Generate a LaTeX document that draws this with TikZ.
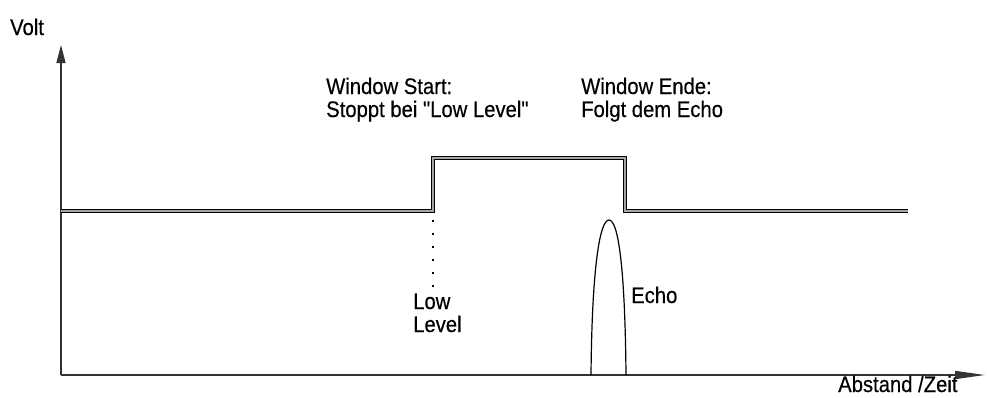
\documentclass[tikz,border=0pt]{standalone}
\usepackage{fontspec}
\newfontfamily\lblfont{Liberation Sans}[FakeStretch=0.9,FakeBold=0.4]
\usetikzlibrary{arrows.meta}
\begin{document}
\begin{tikzpicture}[x=1pt,y=-1pt,
  axis/.style={draw=black!80,line width=1.4pt},
  signal/.style={draw=black,line width=1pt,double=black!35,double distance=1.6pt},
  lbl/.style={inner sep=0pt,anchor=base west,align=left,font=\lblfont\fontsize{22.5}{23}\selectfont}]
\useasboundingbox (0,0) rectangle (987,397);
% axes
\coordinate (O) at (61,375);
\coordinate (Ytip) at (61,45);
\coordinate (Xtip) at (985,375);
\draw[axis,-{Triangle[length=18pt,width=9pt]}] (O) -- (Ytip);
\draw[axis,-{Triangle[length=30pt,width=8pt]}] (O) -- (Xtip);
% signal
\coordinate (s0) at (61,211);
\coordinate (s1) at (433,211);
\coordinate (s2) at (433,158);
\coordinate (s3) at (625,158);
\coordinate (s4) at (625,211);
\coordinate (s5) at (908,211);
\draw[signal] (s0) -- (s1) -- (s2) -- (s3) -- (s4) -- (s5);
% dotted low level marker
\coordinate (d0) at (433,220);
\coordinate (d1) at (433,301);
\draw[black,line width=1.5pt,dash pattern=on 1.5pt off 11.5pt] (d0) -- (d1);
% echo pulse
\coordinate (e0) at (591,375);
\coordinate (ep) at (609,220);
\coordinate (e1) at (626,375);
\draw[black,line width=1.2pt] (e0) .. controls (592,265) and (600,220) .. (ep)
  .. controls (618,220) and (625,265) .. (e1);
% labels
\node[lbl] (volt) at (10,35) {Volt};
\node[lbl] (xlab) at (838,392) {Abstand /Zeit};
\node[lbl] (wstart) at (326,117) {Window Start:\\Stoppt bei "Low Level"};
\node[lbl] (wende) at (581,117) {Window Ende:\\Folgt dem Echo};
\node[lbl] (echo) at (631,303) {Echo};
\node[lbl] (low) at (413,332) {Low\\Level};
\end{tikzpicture}
\end{document}
